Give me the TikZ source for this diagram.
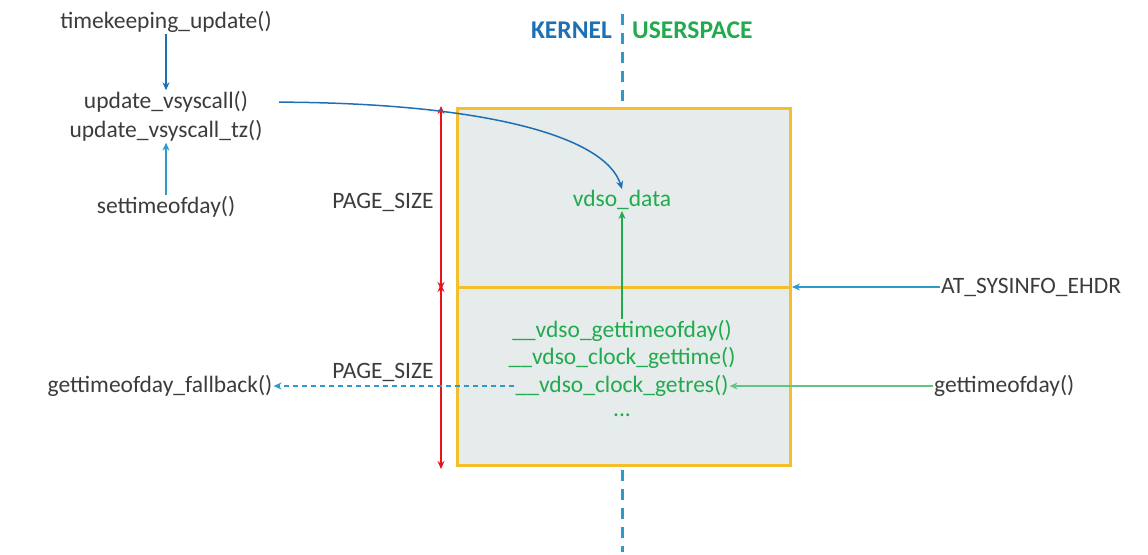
\documentclass[tikz,border=0pt]{standalone}
\usepackage{fontspec}
\setmainfont{Carlito}
\usetikzlibrary{arrows.meta}
\definecolor{txtgray}{HTML}{3C3C3C}
\definecolor{kblue}{HTML}{1F6FB4}
\definecolor{lblue}{HTML}{2E9AC9}
\definecolor{ugreen}{HTML}{22AA4E}
\definecolor{pagered}{HTML}{E8141B}
\definecolor{boxline}{HTML}{F5BE2A}
\definecolor{boxfill}{HTML}{E6EBEB}
\tikzset{
	fn/.style={text=txtgray, inner sep=1pt},
	vfn/.style={text=ugreen, inner sep=1pt},
	side/.style={font=\fontsize{25.5}{30}\selectfont\bfseries, inner sep=1pt},
	tip/.style={-{Stealth[length=8pt,width=7pt]}},
	both/.style={{Stealth[length=8pt,width=7pt]}-{Stealth[length=8pt,width=7pt]}}
}
\begin{document}
\begin{tikzpicture}[x=1pt,y=-1pt,font=\fontsize{23.5}{28}\selectfont]
\useasboundingbox (0,0) rectangle (1148,554);

% page box
\draw[boxline,fill=boxfill,line width=3pt] (457,108) rectangle (790,465);
\draw[boxline,line width=3pt] (457,287) -- (790,287);
\coordinate (ehdr) at (790,287);

% kernel / userspace border
\draw[lblue,line width=3pt,dash pattern=on 11pt off 8pt] (622,14) -- (622,107);
\draw[lblue,line width=3pt,dash pattern=on 11pt off 8pt] (622,470) -- (622,552);
\node[side,anchor=east,text=kblue] (kernel) at (613,30) {KERNEL};
\node[side,anchor=west,text=ugreen] (user) at (631,30) {USERSPACE};

% kernel side
\node[fn] (tku) at (166,22) {timekeeping\_update()};
\node[fn] (uvs) at (166,102) {update\_vsyscall()};
\node[fn] (uvstz) at (166,131) {update\_vsyscall\_tz()};
\node[fn] (stod) at (166,207) {settimeofday()};
\node[fn] (fallback) at (160,386) {gettimeofday\_fallback()};

\draw[tip,kblue,line width=1.5pt] (tku) -- (uvs);
\draw[tip,lblue,line width=1.5pt] (stod) -- (uvstz);

% page sizes
\coordinate (p0) at (441,106);
\coordinate (p1) at (441,287);
\coordinate (p2) at (441,469);
\draw[both,pagered,line width=2pt] (p0) -- ([yshift=-3pt]p1);
\draw[both,pagered,line width=2pt] ([yshift=3pt]p1) -- (p2);
\node[fn] (ps1) at (383,202) {PAGE\_SIZE};
\node[fn] (ps2) at (383,372) {PAGE\_SIZE};

% vdso
\node[vfn] (vdata) at (622,200) {vdso\_data};
\foreach \y/\t/\n in {331/\_\_vdso\_gettimeofday()/gtod, 358/\_\_vdso\_clock\_gettime()/cgt, 386/\_\_vdso\_clock\_getres()/cgr}
{
	\node[vfn] (\n) at (622,\y) {\t};
}
\node[vfn] (more) at (622,415) {...};

\draw[tip,ugreen,line width=1.5pt] (gtod) -- (vdata);
\draw[tip,kblue,line width=1.5pt,shorten <=30pt] (uvs.east) .. controls (480,103) and (605,135) .. (vdata.north);
\draw[tip,lblue,line width=1.5pt,dash pattern=on 5pt off 4pt] (cgr.west) -- (fallback.east);

% userspace side
\node[fn,anchor=west] (sysinfo) at (940,287) {AT\_SYSINFO\_EHDR};
\node[fn,anchor=west] (ugtod) at (933,386) {gettimeofday()};
\draw[tip,lblue,line width=1.5pt] (sysinfo.west) -- ([xshift=2pt]ehdr);
\draw[tip,ugreen!70,line width=1.5pt] (ugtod.west) -- (cgr.east);
\end{tikzpicture}
\end{document}
